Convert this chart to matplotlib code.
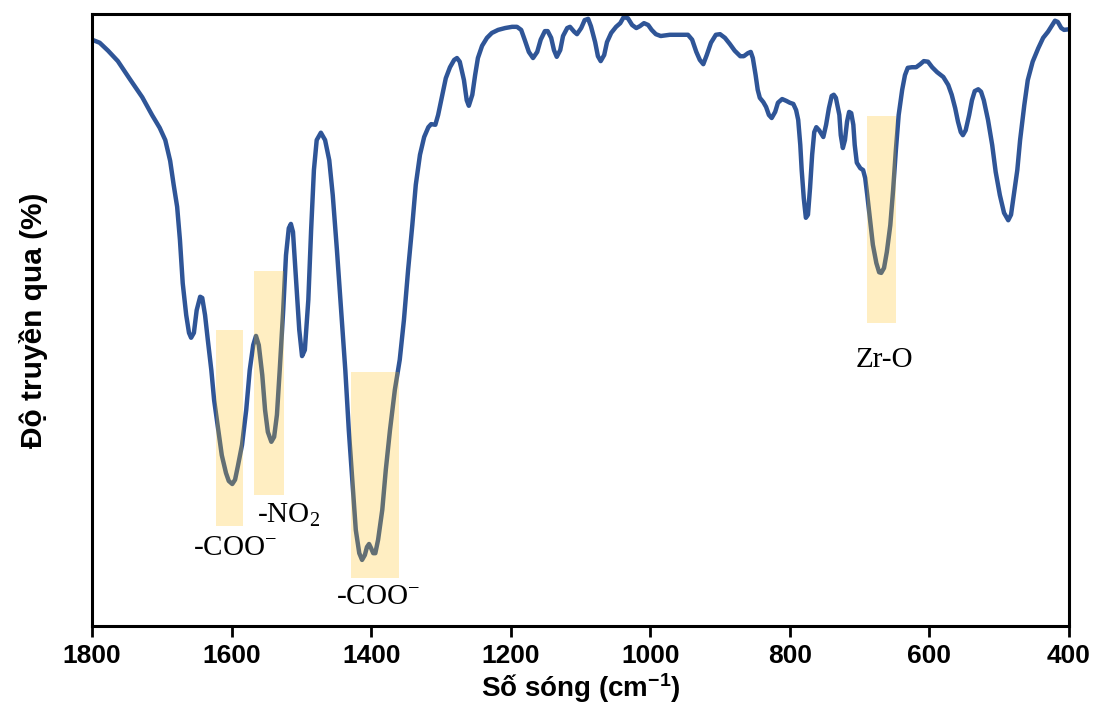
import matplotlib.pyplot as plt

# FTIR spectrum: wavenumber (cm-1) and transmittance (arb. %)
wavenumber = [
    1800, 1789, 1777, 1763, 1746, 1728, 1714, 1703, 1695, 1688, 1683, 1678, 1674, 1670, 1665, 1661,
    1658, 1654, 1650, 1645, 1642, 1638, 1634, 1629, 1625, 1619, 1614, 1608, 1604, 1599, 1595, 1591,
    1585, 1579, 1574, 1569, 1565, 1561, 1556, 1552, 1548, 1543, 1539, 1535, 1531, 1526, 1522, 1518,
    1515, 1512, 1508, 1503, 1499, 1495, 1490, 1486, 1482, 1478, 1472, 1466, 1460, 1455, 1449, 1443,
    1437, 1432, 1426, 1422, 1417, 1413, 1409, 1406, 1403, 1400, 1397, 1394, 1390, 1384, 1379, 1373,
    1366, 1359, 1353, 1347, 1341, 1336, 1330, 1324, 1318, 1314, 1308, 1304, 1298, 1293, 1287, 1281,
    1277, 1273, 1267, 1263, 1260, 1255, 1251, 1247, 1241, 1234, 1227, 1218, 1208, 1198, 1191, 1185,
    1180, 1174, 1168, 1162, 1157, 1151, 1147, 1142, 1138, 1134, 1129, 1125, 1119, 1115, 1109, 1105,
    1099, 1094, 1089, 1085, 1079, 1075, 1071, 1066, 1062, 1056, 1049, 1043, 1038, 1032, 1026, 1020,
    1015, 1009, 1003, 998, 992, 985, 972, 957, 946, 940, 934, 929, 924, 919, 913, 906,
    900, 893, 886, 879, 871, 866, 860, 856, 853, 849, 846, 843, 838, 834, 830, 826,
    821, 817, 811, 805, 800, 795, 791, 788, 785, 783, 780, 777, 774, 771, 768, 765,
    762, 758, 752, 748, 744, 740, 737, 734, 729, 727, 724, 721, 718, 715, 712, 709,
    707, 704, 699, 695, 692, 689, 685, 681, 676, 672, 669, 665, 661, 656, 652, 648,
    644, 639, 635, 631, 625, 619, 613, 608, 602, 596, 589, 580, 573, 568, 563, 559,
    555, 552, 548, 543, 539, 535, 530, 526, 522, 516, 510, 505, 499, 493, 487, 483,
    479, 474, 470, 464, 459, 452, 444, 437, 430, 424, 420, 416, 411, 407, 400,
]
transmittance = [
    95.8, 95.3, 94.0, 92.3, 89.4, 86.4, 83.5, 81.4, 79.4, 76.0, 72.1, 68.5, 63.1, 56.0, 50.8, 47.9,
    47.1, 47.9, 51.6, 53.8, 53.6, 50.8, 46.7, 41.8, 36.9, 32.0, 27.9, 25.0, 23.7, 23.2, 23.9, 26.1,
    29.6, 35.3, 41.8, 45.9, 47.4, 45.9, 41.0, 35.3, 31.7, 30.1, 30.9, 34.5, 41.8, 51.6, 60.6, 65.0,
    65.7, 64.4, 57.4, 48.4, 44.1, 45.1, 53.3, 64.7, 74.5, 79.4, 80.6, 79.4, 76.1, 70.4, 61.4, 51.6,
    41.8, 32.0, 22.2, 15.7, 11.9, 10.8, 11.6, 12.9, 13.4, 12.7, 11.9, 11.9, 14.1, 19.0, 25.5, 32.0,
    38.6, 43.5, 50.0, 58.2, 65.5, 72.1, 77.0, 79.9, 81.5, 82.0, 81.9, 83.5, 86.8, 89.5, 91.3, 92.5,
    92.8, 92.2, 89.2, 85.9, 85.0, 86.8, 90.0, 92.8, 94.8, 96.1, 96.9, 97.4, 97.7, 97.9, 97.9, 97.4,
    95.8, 93.8, 92.8, 93.8, 95.8, 97.2, 97.2, 96.1, 94.1, 93.0, 94.1, 96.4, 97.7, 97.9, 97.1, 96.7,
    97.7, 99.0, 99.2, 98.0, 95.4, 93.1, 92.3, 93.3, 95.4, 96.9, 97.9, 98.5, 99.5, 99.3, 98.2, 97.7,
    98.0, 98.5, 98.2, 97.4, 96.7, 96.4, 96.6, 96.6, 96.6, 95.8, 93.8, 92.5, 91.8, 93.3, 95.3, 96.6,
    96.7, 96.1, 95.1, 94.0, 93.1, 93.1, 93.6, 93.8, 92.8, 90.0, 87.6, 86.3, 85.6, 84.8, 83.5, 83.0,
    84.0, 85.5, 86.1, 85.8, 85.5, 85.3, 84.3, 82.7, 78.6, 74.5, 69.9, 66.7, 67.2, 71.6, 77.0, 80.7,
    81.5, 81.0, 79.9, 81.9, 84.6, 86.6, 86.8, 86.3, 83.5, 80.2, 78.1, 79.4, 82.4, 84.0, 83.8, 81.9,
    78.6, 75.7, 74.8, 74.5, 73.2, 70.4, 66.3, 62.3, 59.3, 57.8, 57.7, 58.5, 61.1, 65.5, 71.2, 77.8,
    83.5, 87.6, 90.0, 91.2, 91.3, 91.3, 91.8, 92.3, 92.2, 91.3, 90.5, 89.7, 88.4, 86.8, 84.6, 82.4,
    80.7, 80.2, 81.0, 83.5, 85.9, 87.4, 87.7, 87.3, 85.9, 82.7, 78.6, 74.2, 70.4, 67.5, 66.3, 67.2,
    70.4, 74.5, 79.4, 85.1, 89.2, 92.2, 94.4, 96.1, 97.1, 98.2, 98.9, 98.7, 97.7, 97.4, 97.5,
]

# highlighted absorption bands: wavenumber range and transmittance range
band_lo = [1584, 1525, 1360, 648]
band_hi = [1622, 1568, 1429, 689]
band_bottom = [16.3, 21.4, 7.8, 49.5]
band_top = [48.4, 58.0, 41.5, 83.3]

band_labels = ['-COO$\\mathregular{^{-}}$', '-NO$\\mathregular{_2}$',
               '-COO$\\mathregular{^{-}}$', 'Zr-O']
label_x = [1595, 1519, 1390, 665]
label_y = [12.7, 18.1, 4.7, 43.5]

fig = plt.figure(figsize=(10.94, 7.13), dpi=100)
ax = fig.add_axes([0.0841, 0.122, 0.893, 0.8584])

ax.plot(wavenumber, transmittance, color='#2F5597', lw=3.2,
        solid_joinstyle='round', solid_capstyle='round', zorder=2)

centers = [(a + b) / 2 for a, b in zip(band_lo, band_hi)]
widths = [b - a for a, b in zip(band_lo, band_hi)]
heights = [t - b for b, t in zip(band_bottom, band_top)]
ax.bar(centers, heights, width=widths, bottom=band_bottom,
       color='#FFBF0C', alpha=0.25, edgecolor='none', zorder=3)

for txt, x, y in zip(band_labels, label_x, label_y):
    ax.text(x, y, txt, ha='center', va='center', fontsize=21,
            family='Liberation Serif', zorder=4)

ax.set_xlim(1800, 400)
ax.set_ylim(0, 100)
ax.set_xticks(range(400, 1801, 200))
ax.set_yticks([])
for lbl in ax.get_xticklabels():
    lbl.set_fontweight('bold')
    lbl.set_family('Liberation Sans')
ax.tick_params(axis='x', direction='out', length=8, width=2, labelsize=19, pad=5)
for s in ax.spines.values():
    s.set_linewidth(2.2)

ax.set_xlabel('Số sóng (cm$\\mathregular{^{-1}}$)', fontsize=20, fontweight='bold',
              family='Liberation Sans', labelpad=2)
ax.set_ylabel('Độ truyền qua (%)', fontsize=21.5, fontweight='bold',
              family='Liberation Sans', labelpad=32)

fig.savefig('out.png', dpi=100)
